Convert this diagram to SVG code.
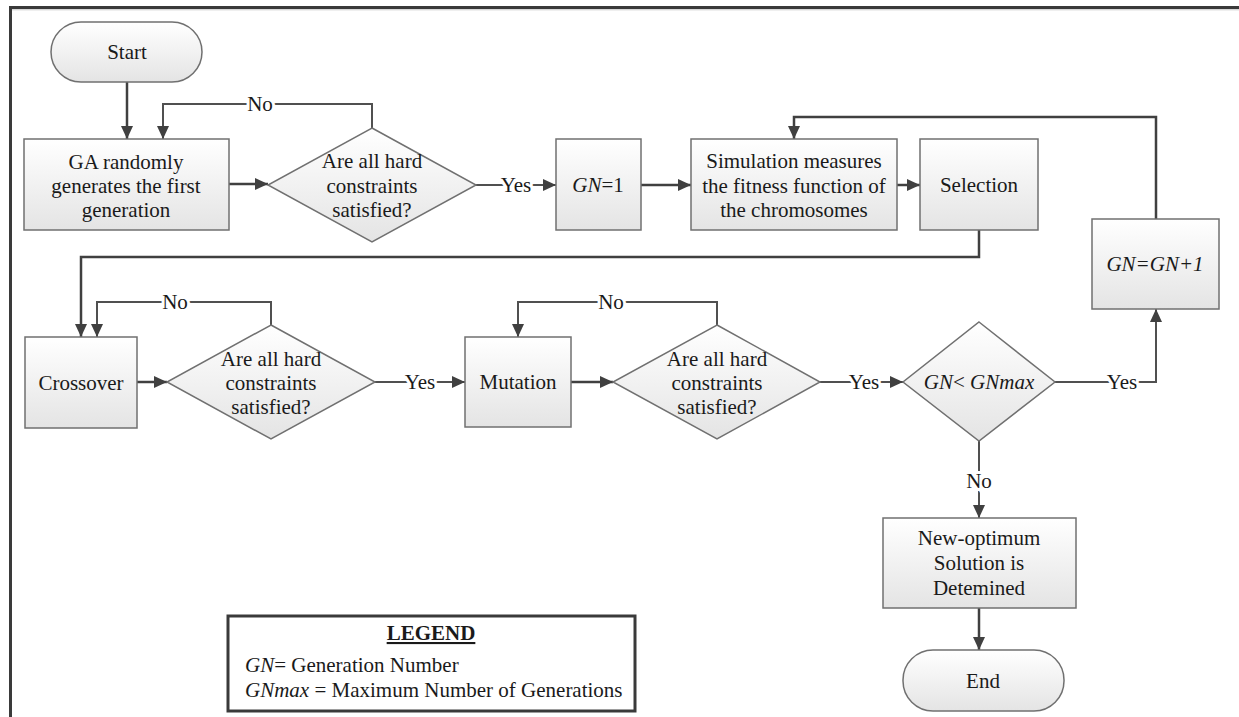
<svg xmlns="http://www.w3.org/2000/svg" width="1239" height="717" viewBox="0 0 1239 717">
<defs>
<linearGradient id="g" x1="0" y1="0" x2="0" y2="1">
<stop offset="0" stop-color="#ffffff"/>
<stop offset="1" stop-color="#e4e4e4"/>
</linearGradient>
<marker id="ah" markerUnits="userSpaceOnUse" markerWidth="14" markerHeight="14" viewBox="0 0 14 14" refX="13" refY="7" orient="auto">
<path d="M0,1 L13,7 L0,13 Z" fill="#404040"/>
</marker>
</defs>
<style>
text{font-family:"Liberation Serif","Times New Roman",Times,"Nimbus Roman","Tinos","DejaVu Serif","Noto Serif",serif;font-size:21px;fill:#1a1a1a;text-anchor:middle}
.b{fill:url(#g);stroke:#707070;stroke-width:1.5}
.c{fill:none;stroke:#404040;stroke-width:2.5}
.l{fill:none;stroke:#505050;stroke-width:2}
.lb{paint-order:stroke;stroke:#fff;stroke-width:6px}
.i{font-style:italic}
.frame{fill:none;stroke:#3a3a3a;stroke-width:3}
</style>
<rect width="1239" height="717" fill="#fff"/>
<g id="frame">
<path d="M9,7.5 H1239" class="frame"/>
<path d="M10.5,7 V717" class="frame"/>
<path d="M12,9.8 H1239" stroke="#c8c8c8" stroke-width="1"/>
</g>
<g id="connectors">
<path class="c" d="M127,82 V139" marker-end="url(#ah)"/>
<path class="c" d="M229,184 H268" marker-end="url(#ah)"/>
<path class="l" d="M372,128 V104 H163 V139" marker-end="url(#ah)"/>
<path class="l" d="M476,185 H556" marker-end="url(#ah)"/>
<path class="c" d="M641,185 H691" marker-end="url(#ah)"/>
<path class="c" d="M897,185 H920" marker-end="url(#ah)"/>
<path class="c" d="M979,230 V257 H81 V337" marker-end="url(#ah)"/>
<path class="c" d="M137,382 H167" marker-end="url(#ah)"/>
<path class="l" d="M271,325 V302 H97 V337" marker-end="url(#ah)"/>
<path class="l" d="M375,382 H465" marker-end="url(#ah)"/>
<path class="c" d="M571,382 H613" marker-end="url(#ah)"/>
<path class="l" d="M717,325 V302 H518 V337" marker-end="url(#ah)"/>
<path class="l" d="M820,382 H903" marker-end="url(#ah)"/>
<path class="l" d="M1055,382 H1156 V309" marker-end="url(#ah)"/>
<path class="c" d="M1156,219 V117 H794 V139" marker-end="url(#ah)"/>
<path class="l" d="M979,441 V518" marker-end="url(#ah)"/>
<path class="c" d="M979,608 V650" marker-end="url(#ah)"/>
<text class="lb" x="260" y="111">No</text>
<text class="lb" x="516" y="192">Yes</text>
<text class="lb" x="175" y="309">No</text>
<text class="lb" x="420" y="389">Yes</text>
<text class="lb" x="611" y="309">No</text>
<text class="lb" x="864" y="389">Yes</text>
<text class="lb" x="1122" y="389">Yes</text>
<text class="lb" x="979" y="488">No</text>
</g>
<g id="start">
<rect class="b" x="51" y="22" width="151" height="60" rx="30"/>
<text x="127" y="59">Start</text>
</g>
<g id="ga">
<rect class="b" x="24" y="139" width="205" height="91"/>
<text x="126" y="169">GA randomly</text>
<text x="126" y="193">generates the first</text>
<text x="126" y="217">generation</text>
</g>
<g id="d1">
<polygon class="b" points="372,128 476,185 372,242 268,185"/>
<text x="372" y="168">Are all hard</text>
<text x="372" y="193">constraints</text>
<text x="372" y="217">satisfied?</text>
</g>
<g id="gn1">
<rect class="b" x="556" y="139" width="85" height="91"/>
<text x="598" y="192"><tspan class="i">GN</tspan>=1</text>
</g>
<g id="sim">
<rect class="b" x="691" y="139" width="206" height="91"/>
<text x="794" y="168">Simulation measures</text>
<text x="794" y="193">the fitness function of</text>
<text x="794" y="217">the chromosomes</text>
</g>
<g id="sel">
<rect class="b" x="920" y="139" width="118" height="91"/>
<text x="979" y="192">Selection</text>
</g>
<g id="gnplus">
<rect class="b" x="1092" y="219" width="127" height="90"/>
<text x="1155" y="271" class="i">GN=GN+1</text>
</g>
<g id="crossover">
<rect class="b" x="25" y="337" width="112" height="91"/>
<text x="81" y="390">Crossover</text>
</g>
<g id="d2">
<polygon class="b" points="271,325 375,382 271,439 167,382"/>
<text x="271" y="366">Are all hard</text>
<text x="271" y="390">constraints</text>
<text x="271" y="414">satisfied?</text>
</g>
<g id="mutation">
<rect class="b" x="465" y="337" width="106" height="90"/>
<text x="518" y="389">Mutation</text>
</g>
<g id="d3">
<polygon class="b" points="717,325 820,382 717,439 613,382"/>
<text x="717" y="366">Are all hard</text>
<text x="717" y="390">constraints</text>
<text x="717" y="414">satisfied?</text>
</g>
<g id="d4">
<polygon class="b" points="979,322 1055,382 979,441 903,382"/>
<text x="979" y="389"><tspan class="i">GN</tspan>&lt; <tspan class="i">GNmax</tspan></text>
</g>
<g id="newopt">
<rect class="b" x="883" y="518" width="193" height="90"/>
<text x="979" y="545">New-optimum</text>
<text x="979" y="570">Solution is</text>
<text x="979" y="595">Detemined</text>
</g>
<g id="end">
<rect class="b" x="903" y="650" width="161" height="61" rx="30"/>
<text x="983" y="688">End</text>
</g>
<g id="legend">
<rect x="228" y="616" width="407" height="95" fill="#fff" stroke="#3a3a3a" stroke-width="3"/>
<text x="431" y="640" font-weight="bold" text-decoration="underline">LEGEND</text>
<text x="245" y="672" style="text-anchor:start"><tspan class="i">GN</tspan>= Generation Number</text>
<text x="245" y="697" style="text-anchor:start"><tspan class="i">GNmax</tspan> = Maximum Number of Generations</text>
</g>
</svg>
